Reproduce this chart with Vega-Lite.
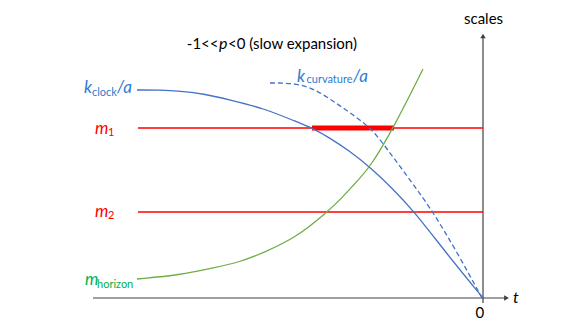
{
  "$schema": "https://vega.github.io/schema/vega-lite/v6.json",
  "width": 585,
  "height": 329,
  "autosize": {"type": "fit", "contains": "padding"},
  "padding": 0,
  "background": "white",
  "config": {"view": {"stroke": null}},
  "datasets": {
    "curves": [
      {"series": "clock", "i": 0, "t": -3.46, "s": 2.08},
      {"series": "clock", "i": 1, "t": -3.23, "s": 2.08},
      {"series": "clock", "i": 2, "t": -3.03, "s": 2.07},
      {"series": "clock", "i": 3, "t": -2.78, "s": 2.04},
      {"series": "clock", "i": 4, "t": -2.53, "s": 1.98},
      {"series": "clock", "i": 5, "t": -2.20, "s": 1.90},
      {"series": "clock", "i": 6, "t": -1.86, "s": 1.76},
      {"series": "clock", "i": 7, "t": -1.71, "s": 1.70},
      {"series": "clock", "i": 8, "t": -1.53, "s": 1.60},
      {"series": "clock", "i": 9, "t": -1.35, "s": 1.48},
      {"series": "clock", "i": 10, "t": -1.13, "s": 1.31},
      {"series": "clock", "i": 11, "t": -0.91, "s": 1.10},
      {"series": "clock", "i": 12, "t": -0.70, "s": 0.88},
      {"series": "clock", "i": 13, "t": -0.36, "s": 0.44},
      {"series": "clock", "i": 14, "t": 0.0, "s": 0.0},
      {"series": "curvature", "i": 0, "t": -2.13, "s": 2.15},
      {"series": "curvature", "i": 1, "t": -1.90, "s": 2.15},
      {"series": "curvature", "i": 2, "t": -1.70, "s": 2.10},
      {"series": "curvature", "i": 3, "t": -1.50, "s": 1.97},
      {"series": "curvature", "i": 4, "t": -1.31, "s": 1.84},
      {"series": "curvature", "i": 5, "t": -1.11, "s": 1.69},
      {"series": "curvature", "i": 6, "t": -0.96, "s": 1.49},
      {"series": "curvature", "i": 7, "t": -0.81, "s": 1.29},
      {"series": "curvature", "i": 8, "t": -0.65, "s": 1.07},
      {"series": "curvature", "i": 9, "t": -0.50, "s": 0.86},
      {"series": "curvature", "i": 10, "t": -0.26, "s": 0.46},
      {"series": "curvature", "i": 11, "t": -0.01, "s": 0.0},
      {"series": "horizon", "i": 0, "t": -3.46, "s": 0.19},
      {"series": "horizon", "i": 1, "t": -3.03, "s": 0.23},
      {"series": "horizon", "i": 2, "t": -2.70, "s": 0.30},
      {"series": "horizon", "i": 3, "t": -2.43, "s": 0.36},
      {"series": "horizon", "i": 4, "t": -2.20, "s": 0.45},
      {"series": "horizon", "i": 5, "t": -1.86, "s": 0.61},
      {"series": "horizon", "i": 6, "t": -1.56, "s": 0.86},
      {"series": "horizon", "i": 7, "t": -1.43, "s": 0.98},
      {"series": "horizon", "i": 8, "t": -1.23, "s": 1.20},
      {"series": "horizon", "i": 9, "t": -1.13, "s": 1.31},
      {"series": "horizon", "i": 10, "t": -0.90, "s": 1.69},
      {"series": "horizon", "i": 11, "t": -0.60, "s": 2.29},
      {"series": "m1", "i": 0, "t": -3.45, "s": 1.70},
      {"series": "m1", "i": 1, "t": 0.0, "s": 1.70},
      {"series": "m2", "i": 0, "t": -3.45, "s": 0.86},
      {"series": "m2", "i": 1, "t": 0.0, "s": 0.86},
      {"series": "band", "i": 0, "t": -1.71, "s": 1.70},
      {"series": "band", "i": 1, "t": -0.89, "s": 1.70}
    ],
    "axes": [
      {"axis": "t", "i": 0, "t": -3.90, "s": 0.0},
      {"axis": "t", "i": 1, "t": 0.22, "s": 0.0},
      {"axis": "s", "i": 0, "t": 0.0, "s": -0.05},
      {"axis": "s", "i": 1, "t": 0.0, "s": 2.62}
    ],
    "arrows": [
      {"dir": "right", "t": 0.235, "s": 0.0},
      {"dir": "up", "t": 0.0, "s": 2.62}
    ],
    "labels": [
      {"kind": "main", "series": "k_clock", "text": "k", "t": -3.99, "s": 2.10},
      {"kind": "main", "series": "k_clock", "text": "/a", "t": -3.66, "s": 2.10},
      {"kind": "main", "series": "k_curvature", "text": "k", "t": -1.86, "s": 2.21},
      {"kind": "main", "series": "k_curvature", "text": "/a", "t": -1.30, "s": 2.21},
      {"kind": "main", "series": "m1", "text": "m", "t": -3.88, "s": 1.69},
      {"kind": "main", "series": "m2", "text": "m", "t": -3.88, "s": 0.86},
      {"kind": "main", "series": "m_horizon", "text": "m", "t": -3.98, "s": 0.18},
      {"kind": "sub", "series": "k_clock", "text": "clock", "t": -3.91, "s": 2.05},
      {"kind": "sub", "series": "k_curvature", "text": "curvature", "t": -1.765, "s": 2.18},
      {"kind": "sub", "series": "m1", "text": "1", "t": -3.75, "s": 1.65},
      {"kind": "sub", "series": "m2", "text": "2", "t": -3.75, "s": 0.82},
      {"kind": "sub", "series": "m_horizon", "text": "horizon", "t": -3.86, "s": 0.13},
      {"kind": "plainR", "series": "annotation", "text": "-1<<", "t": -2.645, "s": 2.54},
      {"kind": "italic", "series": "annotation", "text": "p", "t": -2.64, "s": 2.54},
      {"kind": "plain", "series": "annotation", "text": "<0 (slow expansion)", "t": -2.55, "s": 2.54},
      {"kind": "plain", "series": "annotation", "text": "scales", "t": -0.19, "s": 2.79},
      {"kind": "italic", "series": "annotation", "text": "t", "t": 0.30, "s": 0.0},
      {"kind": "plain", "series": "annotation", "text": "0", "t": -0.075, "s": -0.15}
    ]
  },
  "encoding": {
    "x": {"field": "t", "type": "quantitative", "scale": {"domain": [-4.83, 1.02], "nice": false, "zero": false}, "axis": null},
    "y": {"field": "s", "type": "quantitative", "scale": {"domain": [-0.31, 2.98], "nice": false, "zero": false}, "axis": null}
  },
  "layer": [
    {
      "data": {"name": "axes"},
      "mark": {"type": "line", "color": "#404040", "strokeWidth": 1.2},
      "encoding": {"detail": {"field": "axis"}, "order": {"field": "i"}}
    },
    {
      "data": {"name": "arrows"},
      "mark": {"type": "point", "filled": true, "color": "#404040", "size": 30, "opacity": 1},
      "encoding": {"shape": {"field": "dir", "type": "nominal", "scale": {"domain": ["right", "up"], "range": ["triangle-right", "triangle-up"]}, "legend": null}}
    },
    {
      "data": {"name": "curves"},
      "transform": [{"filter": "datum.series === 'm1' || datum.series === 'm2'"}],
      "mark": {"type": "line", "color": "#FF0000", "strokeWidth": 1.5},
      "encoding": {"detail": {"field": "series"}, "order": {"field": "i"}}
    },
    {
      "data": {"name": "curves"},
      "transform": [{"filter": "datum.series === 'band'"}],
      "mark": {"type": "line", "color": "#FF0000", "strokeWidth": 5, "strokeCap": "butt"},
      "encoding": {"order": {"field": "i"}}
    },
    {
      "data": {"name": "curves"},
      "transform": [{"filter": "datum.series === 'clock'"}],
      "mark": {"type": "line", "color": "#4472C4", "strokeWidth": 1.3, "interpolate": "basis"},
      "encoding": {"order": {"field": "i"}}
    },
    {
      "data": {"name": "curves"},
      "transform": [{"filter": "datum.series === 'curvature'"}],
      "mark": {"type": "line", "color": "#4472C4", "strokeWidth": 1.3, "interpolate": "basis", "strokeDash": [5, 3]},
      "encoding": {"order": {"field": "i"}}
    },
    {
      "data": {"name": "curves"},
      "transform": [{"filter": "datum.series === 'horizon'"}],
      "mark": {"type": "line", "color": "#70AD47", "strokeWidth": 1.3, "interpolate": "basis"},
      "encoding": {"order": {"field": "i"}}
    },
    {
      "data": {"name": "labels"},
      "transform": [{"filter": "datum.kind === 'main'"}],
      "mark": {"type": "text", "align": "left", "baseline": "middle", "font": "Lato", "fontSize": 17, "fontStyle": "italic"},
      "encoding": {"text": {"field": "text"}, "color": {"field": "series", "type": "nominal", "legend": null, "scale": {"domain": ["k_clock", "k_curvature", "m1", "m2", "m_horizon", "annotation"], "range": ["#2E7BD3", "#2E7BD3", "#FF0000", "#FF0000", "#00B050", "#000000"]}}}
    },
    {
      "data": {"name": "labels"},
      "transform": [{"filter": "datum.kind === 'sub'"}],
      "mark": {"type": "text", "align": "left", "baseline": "middle", "font": "Lato", "fontSize": 11},
      "encoding": {"text": {"field": "text"}, "color": {"field": "series", "type": "nominal", "legend": null}}
    },
    {
      "data": {"name": "labels"},
      "transform": [{"filter": "datum.kind === 'plain'"}],
      "mark": {"type": "text", "align": "left", "baseline": "middle", "font": "Lato", "fontSize": 15},
      "encoding": {"text": {"field": "text"}, "color": {"field": "series", "type": "nominal", "legend": null}}
    },
    {
      "data": {"name": "labels"},
      "transform": [{"filter": "datum.kind === 'plainR'"}],
      "mark": {"type": "text", "align": "right", "baseline": "middle", "font": "Lato", "fontSize": 15},
      "encoding": {"text": {"field": "text"}, "color": {"field": "series", "type": "nominal", "legend": null}}
    },
    {
      "data": {"name": "labels"},
      "transform": [{"filter": "datum.kind === 'italic'"}],
      "mark": {"type": "text", "align": "left", "baseline": "middle", "font": "Lato", "fontSize": 16, "fontStyle": "italic"},
      "encoding": {"text": {"field": "text"}, "color": {"field": "series", "type": "nominal", "legend": null}}
    }
  ]
}
